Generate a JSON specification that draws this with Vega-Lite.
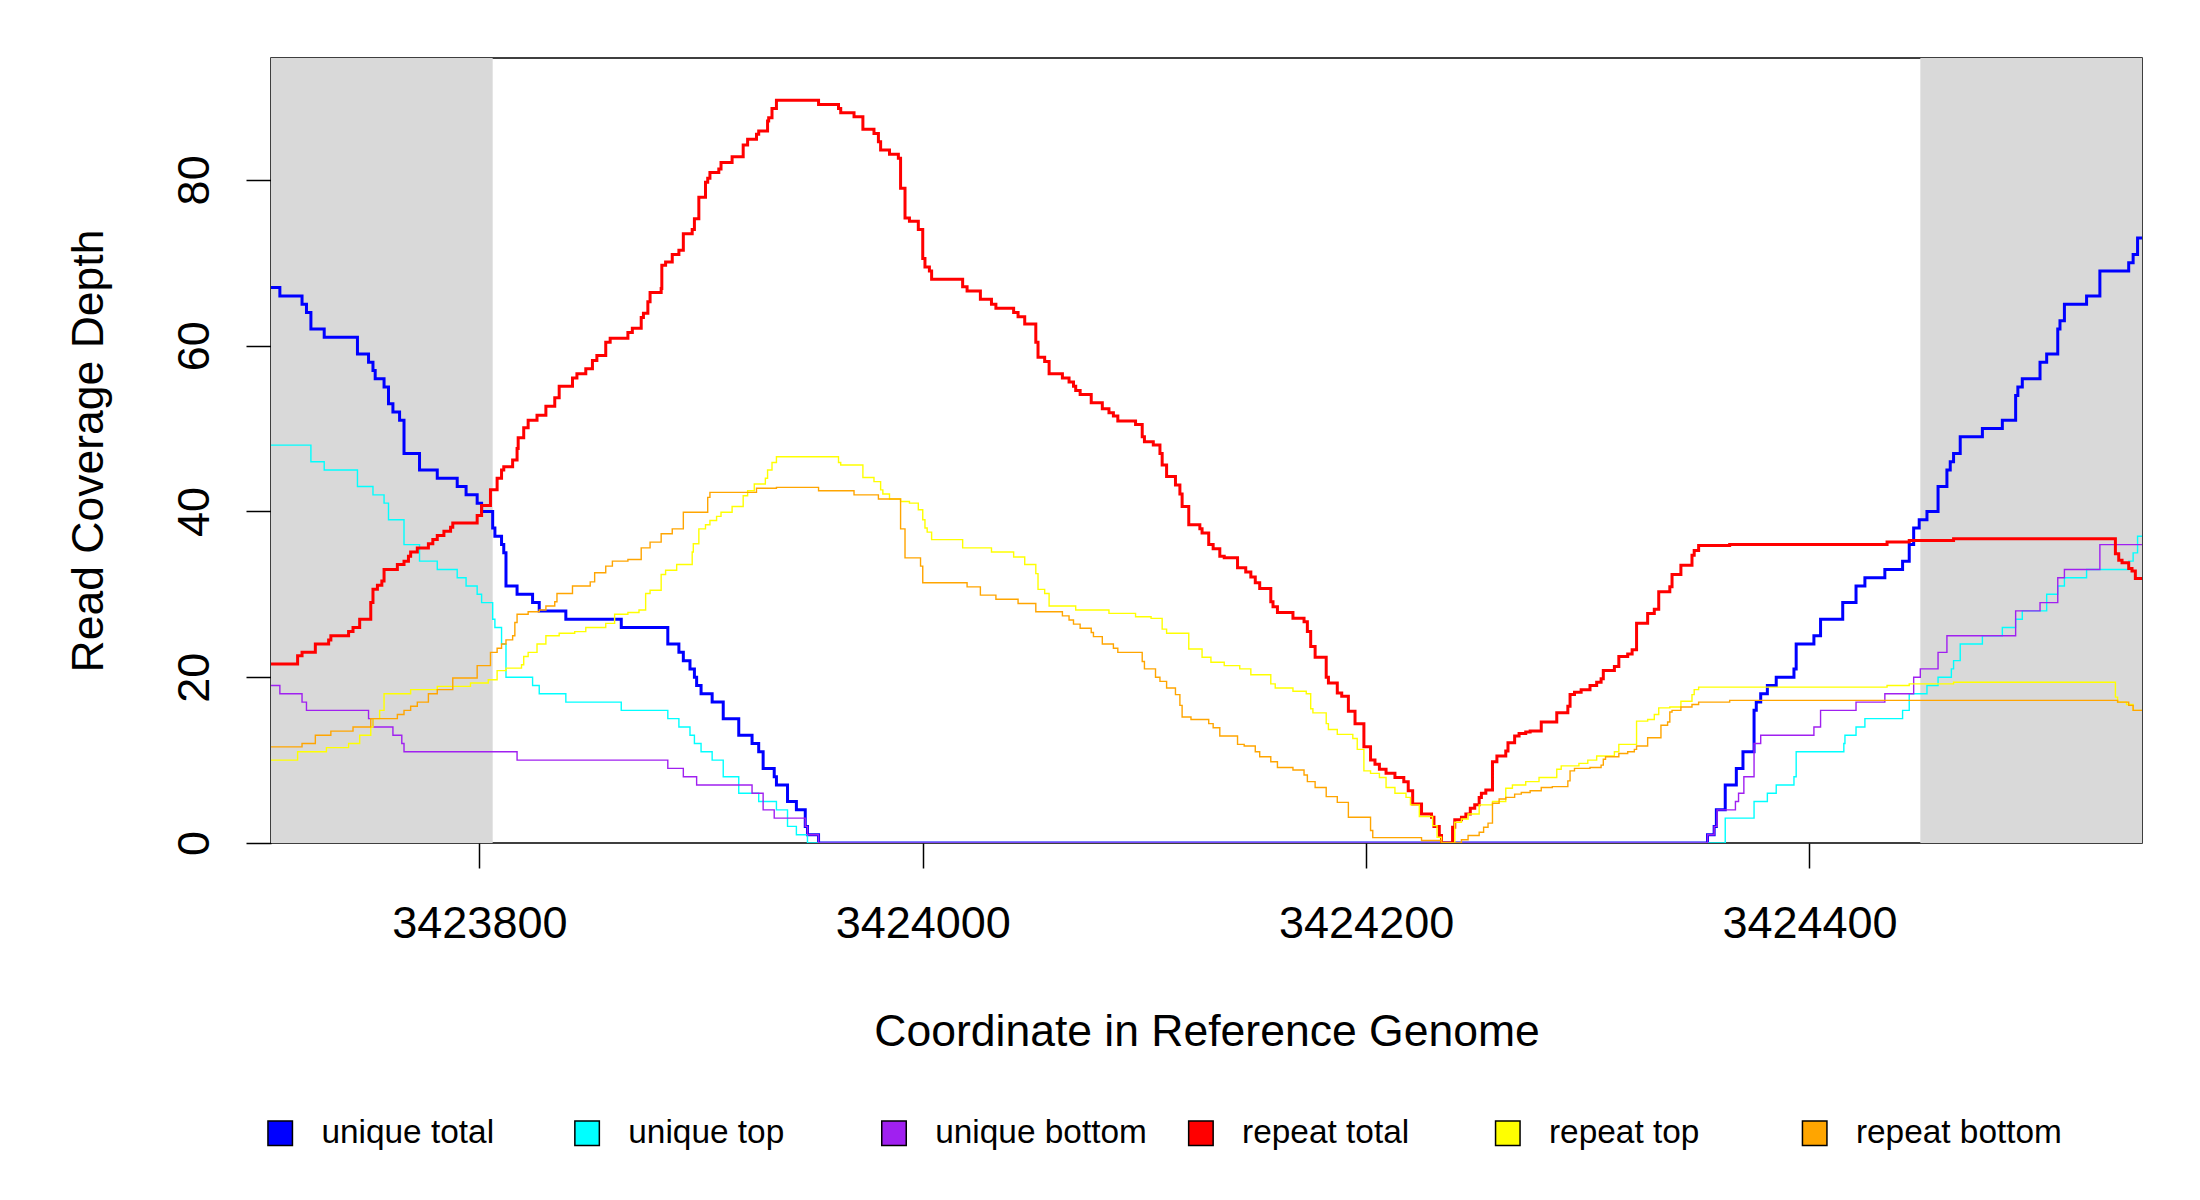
{
"$schema": "https://vega.github.io/schema/vega-lite/v6.json",
"autosize": {"type": "none"},
"width": 1871,
"height": 785,
"padding": {"left": 271, "top": 58, "right": 58, "bottom": 357},
"background": "white",
"datasets": {
"coverage": [
{"series":"unique total","x":3423706,"y":67},{"series":"unique total","x":3423710,"y":66},{"series":"unique total","x":3423720,"y":65},{"series":"unique total","x":3423722,"y":64},{"series":"unique total","x":3423724,"y":62},{"series":"unique total","x":3423730,"y":61},{"series":"unique total","x":3423745,"y":59},{"series":"unique total","x":3423750,"y":58},{"series":"unique total","x":3423752,"y":57},{"series":"unique total","x":3423753,"y":56},{"series":"unique total","x":3423757,"y":55},{"series":"unique total","x":3423759,"y":53},{"series":"unique total","x":3423761,"y":52},{"series":"unique total","x":3423764,"y":51},{"series":"unique total","x":3423766,"y":47},{"series":"unique total","x":3423773,"y":45},{"series":"unique total","x":3423781,"y":44},{"series":"unique total","x":3423790,"y":43},{"series":"unique total","x":3423794,"y":42},{"series":"unique total","x":3423799,"y":41},{"series":"unique total","x":3423801,"y":40},{"series":"unique total","x":3423806,"y":38},{"series":"unique total","x":3423807,"y":37},{"series":"unique total","x":3423810,"y":36},{"series":"unique total","x":3423811,"y":35},{"series":"unique total","x":3423812,"y":31},{"series":"unique total","x":3423817,"y":30},{"series":"unique total","x":3423824,"y":29},{"series":"unique total","x":3423827,"y":28},{"series":"unique total","x":3423839,"y":27},{"series":"unique total","x":3423864,"y":26},{"series":"unique total","x":3423885,"y":24},{"series":"unique total","x":3423890,"y":23},{"series":"unique total","x":3423892,"y":22},{"series":"unique total","x":3423895,"y":21},{"series":"unique total","x":3423897,"y":20},{"series":"unique total","x":3423898,"y":19},{"series":"unique total","x":3423900,"y":18},{"series":"unique total","x":3423905,"y":17},{"series":"unique total","x":3423910,"y":15},{"series":"unique total","x":3423917,"y":13},{"series":"unique total","x":3423923,"y":12},{"series":"unique total","x":3423926,"y":11},{"series":"unique total","x":3423928,"y":9},{"series":"unique total","x":3423933,"y":8},{"series":"unique total","x":3423934,"y":7},{"series":"unique total","x":3423939,"y":5},{"series":"unique total","x":3423943,"y":4},{"series":"unique total","x":3423947,"y":2},{"series":"unique total","x":3423948,"y":1},{"series":"unique total","x":3423953,"y":0},{"series":"unique total","x":3424354,"y":1},{"series":"unique total","x":3424357,"y":2},{"series":"unique total","x":3424358,"y":4},{"series":"unique total","x":3424362,"y":7},{"series":"unique total","x":3424367,"y":9},{"series":"unique total","x":3424370,"y":11},{"series":"unique total","x":3424375,"y":16},{"series":"unique total","x":3424376,"y":17},{"series":"unique total","x":3424378,"y":18},{"series":"unique total","x":3424381,"y":19},{"series":"unique total","x":3424385,"y":20},{"series":"unique total","x":3424393,"y":21},{"series":"unique total","x":3424394,"y":24},{"series":"unique total","x":3424402,"y":25},{"series":"unique total","x":3424405,"y":27},{"series":"unique total","x":3424415,"y":29},{"series":"unique total","x":3424421,"y":31},{"series":"unique total","x":3424425,"y":32},{"series":"unique total","x":3424434,"y":33},{"series":"unique total","x":3424442,"y":34},{"series":"unique total","x":3424445,"y":36},{"series":"unique total","x":3424447,"y":38},{"series":"unique total","x":3424449.5,"y":39},{"series":"unique total","x":3424453,"y":40},{"series":"unique total","x":3424458,"y":43},{"series":"unique total","x":3424462,"y":45},{"series":"unique total","x":3424463.5,"y":46},{"series":"unique total","x":3424465,"y":47},{"series":"unique total","x":3424468,"y":49},{"series":"unique total","x":3424478,"y":50},{"series":"unique total","x":3424487,"y":51},{"series":"unique total","x":3424493,"y":54},{"series":"unique total","x":3424494,"y":55},{"series":"unique total","x":3424496,"y":56},{"series":"unique total","x":3424504,"y":58},{"series":"unique total","x":3424507,"y":59},{"series":"unique total","x":3424512,"y":62},{"series":"unique total","x":3424513,"y":63},{"series":"unique total","x":3424515,"y":65},{"series":"unique total","x":3424525,"y":66},{"series":"unique total","x":3424531,"y":69},{"series":"unique total","x":3424544,"y":70},{"series":"unique total","x":3424546,"y":71},{"series":"unique total","x":3424548,"y":73},{"series":"unique total","x":3424550,"y":73},
{"series":"unique top","x":3423706,"y":48},{"series":"unique top","x":3423724,"y":46},{"series":"unique top","x":3423730,"y":45},{"series":"unique top","x":3423745,"y":43},{"series":"unique top","x":3423752,"y":42},{"series":"unique top","x":3423757,"y":41},{"series":"unique top","x":3423759,"y":39},{"series":"unique top","x":3423766,"y":36},{"series":"unique top","x":3423773,"y":34},{"series":"unique top","x":3423781,"y":33},{"series":"unique top","x":3423790,"y":32},{"series":"unique top","x":3423794,"y":31},{"series":"unique top","x":3423799,"y":30},{"series":"unique top","x":3423801,"y":29},{"series":"unique top","x":3423806,"y":27},{"series":"unique top","x":3423807,"y":26},{"series":"unique top","x":3423810,"y":24},{"series":"unique top","x":3423812,"y":20},{"series":"unique top","x":3423824,"y":19},{"series":"unique top","x":3423827,"y":18},{"series":"unique top","x":3423839,"y":17},{"series":"unique top","x":3423864,"y":16},{"series":"unique top","x":3423885,"y":15},{"series":"unique top","x":3423890,"y":14},{"series":"unique top","x":3423895,"y":13},{"series":"unique top","x":3423897,"y":12},{"series":"unique top","x":3423900,"y":11},{"series":"unique top","x":3423905,"y":10},{"series":"unique top","x":3423910,"y":8},{"series":"unique top","x":3423917,"y":6},{"series":"unique top","x":3423926,"y":5},{"series":"unique top","x":3423934,"y":4},{"series":"unique top","x":3423939,"y":2},{"series":"unique top","x":3423943,"y":1},{"series":"unique top","x":3423948,"y":0},{"series":"unique top","x":3424362,"y":3},{"series":"unique top","x":3424375,"y":5},{"series":"unique top","x":3424381,"y":6},{"series":"unique top","x":3424385,"y":7},{"series":"unique top","x":3424393,"y":8},{"series":"unique top","x":3424394,"y":11},{"series":"unique top","x":3424415.5,"y":12},{"series":"unique top","x":3424416,"y":13},{"series":"unique top","x":3424421,"y":14},{"series":"unique top","x":3424425,"y":15},{"series":"unique top","x":3424442,"y":16},{"series":"unique top","x":3424445,"y":18},{"series":"unique top","x":3424453,"y":19},{"series":"unique top","x":3424458,"y":20},{"series":"unique top","x":3424464,"y":21},{"series":"unique top","x":3424465,"y":22},{"series":"unique top","x":3424468,"y":24},{"series":"unique top","x":3424478,"y":25},{"series":"unique top","x":3424487,"y":26},{"series":"unique top","x":3424493,"y":27},{"series":"unique top","x":3424496,"y":28},{"series":"unique top","x":3424507,"y":30},{"series":"unique top","x":3424512,"y":31},{"series":"unique top","x":3424515,"y":32},{"series":"unique top","x":3424525,"y":33},{"series":"unique top","x":3424544,"y":34},{"series":"unique top","x":3424546,"y":35},{"series":"unique top","x":3424548,"y":37},{"series":"unique top","x":3424550,"y":37},
{"series":"unique bottom","x":3423706,"y":19},{"series":"unique bottom","x":3423710,"y":18},{"series":"unique bottom","x":3423720,"y":17},{"series":"unique bottom","x":3423722,"y":16},{"series":"unique bottom","x":3423750,"y":15},{"series":"unique bottom","x":3423752,"y":14},{"series":"unique bottom","x":3423761,"y":13},{"series":"unique bottom","x":3423765,"y":12},{"series":"unique bottom","x":3423766,"y":11},{"series":"unique bottom","x":3423817,"y":10},{"series":"unique bottom","x":3423885,"y":9},{"series":"unique bottom","x":3423892,"y":8},{"series":"unique bottom","x":3423898,"y":7},{"series":"unique bottom","x":3423923,"y":6},{"series":"unique bottom","x":3423928,"y":4},{"series":"unique bottom","x":3423933,"y":3},{"series":"unique bottom","x":3423947,"y":2},{"series":"unique bottom","x":3423948,"y":1},{"series":"unique bottom","x":3423953,"y":0},{"series":"unique bottom","x":3424354,"y":1},{"series":"unique bottom","x":3424357,"y":2},{"series":"unique bottom","x":3424358.3,"y":4},{"series":"unique bottom","x":3424366.6,"y":5},{"series":"unique bottom","x":3424368,"y":6},{"series":"unique bottom","x":3424370.4,"y":8},{"series":"unique bottom","x":3424375,"y":12},{"series":"unique bottom","x":3424378,"y":13},{"series":"unique bottom","x":3424402,"y":14},{"series":"unique bottom","x":3424405,"y":16},{"series":"unique bottom","x":3424421,"y":17},{"series":"unique bottom","x":3424434,"y":18},{"series":"unique bottom","x":3424447,"y":20},{"series":"unique bottom","x":3424450,"y":21},{"series":"unique bottom","x":3424458,"y":23},{"series":"unique bottom","x":3424462,"y":25},{"series":"unique bottom","x":3424493,"y":28},{"series":"unique bottom","x":3424504,"y":29},{"series":"unique bottom","x":3424512,"y":32},{"series":"unique bottom","x":3424515,"y":33},{"series":"unique bottom","x":3424531,"y":36},{"series":"unique bottom","x":3424550,"y":36},
{"series":"repeat total","x":3423706,"y":21.6},{"series":"repeat total","x":3423718,"y":22.6},{"series":"repeat total","x":3423720,"y":23},{"series":"repeat total","x":3423726,"y":24},{"series":"repeat total","x":3423732,"y":24.5},{"series":"repeat total","x":3423733,"y":25},{"series":"repeat total","x":3423741,"y":25.5},{"series":"repeat total","x":3423743,"y":26},{"series":"repeat total","x":3423746,"y":27},{"series":"repeat total","x":3423751,"y":29},{"series":"repeat total","x":3423752,"y":30.6},{"series":"repeat total","x":3423754,"y":31.1},{"series":"repeat total","x":3423756,"y":31.6},{"series":"repeat total","x":3423757,"y":33},{"series":"repeat total","x":3423763,"y":33.6},{"series":"repeat total","x":3423766,"y":34},{"series":"repeat total","x":3423768,"y":34.6},{"series":"repeat total","x":3423769,"y":35.1},{"series":"repeat total","x":3423772,"y":35.6},{"series":"repeat total","x":3423777,"y":36.1},{"series":"repeat total","x":3423779,"y":36.6},{"series":"repeat total","x":3423781,"y":37.1},{"series":"repeat total","x":3423784,"y":37.6},{"series":"repeat total","x":3423787,"y":38.1},{"series":"repeat total","x":3423788,"y":38.6},{"series":"repeat total","x":3423799,"y":39.5},{"series":"repeat total","x":3423801,"y":40.7},{"series":"repeat total","x":3423805,"y":42.6},{"series":"repeat total","x":3423808,"y":44},{"series":"repeat total","x":3423810,"y":45},{"series":"repeat total","x":3423811,"y":45.4},{"series":"repeat total","x":3423815,"y":46.2},{"series":"repeat total","x":3423817,"y":47.6},{"series":"repeat total","x":3423817.5,"y":48.9},{"series":"repeat total","x":3423820,"y":50.1},{"series":"repeat total","x":3423822,"y":51},{"series":"repeat total","x":3423826,"y":51.6},{"series":"repeat total","x":3423830,"y":52.7},{"series":"repeat total","x":3423834,"y":53.7},{"series":"repeat total","x":3423836,"y":55.1},{"series":"repeat total","x":3423842,"y":56.1},{"series":"repeat total","x":3423844,"y":56.6},{"series":"repeat total","x":3423848,"y":57.2},{"series":"repeat total","x":3423851,"y":58.2},{"series":"repeat total","x":3423853,"y":58.8},{"series":"repeat total","x":3423857,"y":60.4},{"series":"repeat total","x":3423859,"y":60.9},{"series":"repeat total","x":3423867,"y":61.6},{"series":"repeat total","x":3423869,"y":62.1},{"series":"repeat total","x":3423873,"y":63.4},{"series":"repeat total","x":3423874,"y":63.9},{"series":"repeat total","x":3423876,"y":65.3},{"series":"repeat total","x":3423877,"y":66.4},{"series":"repeat total","x":3423882,"y":66.9},{"series":"repeat total","x":3423882.3,"y":69.7},{"series":"repeat total","x":3423884,"y":70.1},{"series":"repeat total","x":3423887,"y":71},{"series":"repeat total","x":3423890,"y":71.5},{"series":"repeat total","x":3423892,"y":73.5},{"series":"repeat total","x":3423896,"y":74},{"series":"repeat total","x":3423897,"y":75.3},{"series":"repeat total","x":3423899,"y":77.9},{"series":"repeat total","x":3423902,"y":79.7},{"series":"repeat total","x":3423903,"y":80.2},{"series":"repeat total","x":3423904,"y":80.9},{"series":"repeat total","x":3423908,"y":81.3},{"series":"repeat total","x":3423909,"y":82.1},{"series":"repeat total","x":3423914,"y":82.8},{"series":"repeat total","x":3423919,"y":84.2},{"series":"repeat total","x":3423921,"y":84.9},{"series":"repeat total","x":3423925,"y":85.5},{"series":"repeat total","x":3423926,"y":85.9},{"series":"repeat total","x":3423930,"y":87.1},{"series":"repeat total","x":3423930.5,"y":87.5},{"series":"repeat total","x":3423932,"y":88.6},{"series":"repeat total","x":3423934,"y":89.6},{"series":"repeat total","x":3423953,"y":89.1},{"series":"repeat total","x":3423962,"y":88.6},{"series":"repeat total","x":3423963,"y":88.1},{"series":"repeat total","x":3423969,"y":87.6},{"series":"repeat total","x":3423973,"y":86.1},{"series":"repeat total","x":3423978,"y":85.6},{"series":"repeat total","x":3423980,"y":84.6},{"series":"repeat total","x":3423981,"y":83.6},{"series":"repeat total","x":3423985,"y":83.1},{"series":"repeat total","x":3423989,"y":82.6},{"series":"repeat total","x":3423990,"y":79.0},{"series":"repeat total","x":3423992,"y":75.4},{"series":"repeat total","x":3423994,"y":75.0},{"series":"repeat total","x":3423998,"y":74.0},{"series":"repeat total","x":3424000,"y":70.5},{"series":"repeat total","x":3424001,"y":69.5},{"series":"repeat total","x":3424003,"y":69.0},{"series":"repeat total","x":3424004,"y":68.0},{"series":"repeat total","x":3424018,"y":67.1},{"series":"repeat total","x":3424020,"y":66.6},{"series":"repeat total","x":3424026,"y":65.6},{"series":"repeat total","x":3424031,"y":65.0},{"series":"repeat total","x":3424033,"y":64.5},{"series":"repeat total","x":3424041,"y":64.0},{"series":"repeat total","x":3424043,"y":63.5},{"series":"repeat total","x":3424046,"y":62.6},{"series":"repeat total","x":3424051,"y":60.4},{"series":"repeat total","x":3424052,"y":58.6},{"series":"repeat total","x":3424055,"y":58.1},{"series":"repeat total","x":3424057,"y":56.6},{"series":"repeat total","x":3424063,"y":56.1},{"series":"repeat total","x":3424066,"y":55.6},{"series":"repeat total","x":3424068,"y":55.1},{"series":"repeat total","x":3424069,"y":54.6},{"series":"repeat total","x":3424071,"y":54.1},{"series":"repeat total","x":3424076,"y":53.1},{"series":"repeat total","x":3424081,"y":52.4},{"series":"repeat total","x":3424084,"y":51.9},{"series":"repeat total","x":3424086,"y":51.5},{"series":"repeat total","x":3424088,"y":50.9},{"series":"repeat total","x":3424096,"y":50.5},{"series":"repeat total","x":3424099,"y":49.0},{"series":"repeat total","x":3424100,"y":48.4},{"series":"repeat total","x":3424104,"y":48.0},{"series":"repeat total","x":3424107,"y":47.0},{"series":"repeat total","x":3424108,"y":45.6},{"series":"repeat total","x":3424110,"y":44.2},{"series":"repeat total","x":3424114,"y":43.2},{"series":"repeat total","x":3424116,"y":42.1},{"series":"repeat total","x":3424117,"y":40.6},{"series":"repeat total","x":3424120,"y":38.4},{"series":"repeat total","x":3424125,"y":37.9},{"series":"repeat total","x":3424126,"y":37.4},{"series":"repeat total","x":3424129,"y":36.0},{"series":"repeat total","x":3424131,"y":35.5},{"series":"repeat total","x":3424134,"y":34.6},{"series":"repeat total","x":3424136,"y":34.4},{"series":"repeat total","x":3424142,"y":33.2},{"series":"repeat total","x":3424145.7,"y":32.7},{"series":"repeat total","x":3424148,"y":32.1},{"series":"repeat total","x":3424150,"y":31.4},{"series":"repeat total","x":3424152,"y":30.7},{"series":"repeat total","x":3424157,"y":29.1},{"series":"repeat total","x":3424158,"y":28.5},{"series":"repeat total","x":3424160,"y":27.8},{"series":"repeat total","x":3424167,"y":27.1},{"series":"repeat total","x":3424172,"y":26.7},{"series":"repeat total","x":3424173.5,"y":25.5},{"series":"repeat total","x":3424175,"y":23.7},{"series":"repeat total","x":3424177,"y":22.4},{"series":"repeat total","x":3424182,"y":20.0},{"series":"repeat total","x":3424183,"y":19.3},{"series":"repeat total","x":3424187,"y":18.1},{"series":"repeat total","x":3424189,"y":17.7},{"series":"repeat total","x":3424192,"y":15.9},{"series":"repeat total","x":3424195,"y":14.4},{"series":"repeat total","x":3424199,"y":11.6},{"series":"repeat total","x":3424202,"y":10.0},{"series":"repeat total","x":3424204,"y":9.5},{"series":"repeat total","x":3424206,"y":8.9},{"series":"repeat total","x":3424209,"y":8.4},{"series":"repeat total","x":3424213,"y":7.9},{"series":"repeat total","x":3424217,"y":7.4},{"series":"repeat total","x":3424219,"y":6.3},{"series":"repeat total","x":3424221,"y":4.7},{"series":"repeat total","x":3424225,"y":3.5},{"series":"repeat total","x":3424229.5,"y":3.1},{"series":"repeat total","x":3424230.6,"y":2.0},{"series":"repeat total","x":3424233,"y":0.9},{"series":"repeat total","x":3424234,"y":0},{"series":"repeat total","x":3424239,"y":1.9},{"series":"repeat total","x":3424240,"y":2.8},{"series":"repeat total","x":3424243,"y":3.1},{"series":"repeat total","x":3424245,"y":3.5},{"series":"repeat total","x":3424247,"y":4.2},{"series":"repeat total","x":3424249,"y":4.6},{"series":"repeat total","x":3424251,"y":5.5},{"series":"repeat total","x":3424252,"y":6.0},{"series":"repeat total","x":3424254,"y":6.4},{"series":"repeat total","x":3424257,"y":9.8},{"series":"repeat total","x":3424259,"y":10.5},{"series":"repeat total","x":3424263,"y":11.1},{"series":"repeat total","x":3424264,"y":12.1},{"series":"repeat total","x":3424267,"y":12.9},{"series":"repeat total","x":3424269,"y":13.2},{"series":"repeat total","x":3424272,"y":13.4},{"series":"repeat total","x":3424274,"y":13.5},{"series":"repeat total","x":3424279,"y":14.6},{"series":"repeat total","x":3424286,"y":15.7},{"series":"repeat total","x":3424291,"y":16.5},{"series":"repeat total","x":3424292,"y":17.9},{"series":"repeat total","x":3424294,"y":18.2},{"series":"repeat total","x":3424297,"y":18.5},{"series":"repeat total","x":3424301,"y":19.0},{"series":"repeat total","x":3424304,"y":19.4},{"series":"repeat total","x":3424306,"y":19.8},{"series":"repeat total","x":3424307,"y":20.8},{"series":"repeat total","x":3424312,"y":21.3},{"series":"repeat total","x":3424314,"y":22.5},{"series":"repeat total","x":3424318,"y":22.8},{"series":"repeat total","x":3424320,"y":23.3},{"series":"repeat total","x":3424322,"y":26.5},{"series":"repeat total","x":3424327,"y":27.7},{"series":"repeat total","x":3424330,"y":28.2},{"series":"repeat total","x":3424332,"y":30.3},{"series":"repeat total","x":3424337,"y":30.9},{"series":"repeat total","x":3424338,"y":32.4},{"series":"repeat total","x":3424342,"y":33.5},{"series":"repeat total","x":3424347,"y":34.7},{"series":"repeat total","x":3424348,"y":35.3},{"series":"repeat total","x":3424350,"y":35.9},{"series":"repeat total","x":3424364,"y":36.0},{"series":"repeat total","x":3424435,"y":36.3},{"series":"repeat total","x":3424445,"y":36.5},{"series":"repeat total","x":3424465,"y":36.7},{"series":"repeat total","x":3424538,"y":34.9},{"series":"repeat total","x":3424539.5,"y":34.1},{"series":"repeat total","x":3424541,"y":33.8},{"series":"repeat total","x":3424544,"y":33.1},{"series":"repeat total","x":3424545.5,"y":32.8},{"series":"repeat total","x":3424547,"y":31.9},{"series":"repeat total","x":3424550,"y":31.9},
{"series":"repeat top","x":3423706,"y":10},{"series":"repeat top","x":3423718,"y":11},{"series":"repeat top","x":3423731,"y":11.5},{"series":"repeat top","x":3423741,"y":12},{"series":"repeat top","x":3423746,"y":13},{"series":"repeat top","x":3423751,"y":14},{"series":"repeat top","x":3423752,"y":15},{"series":"repeat top","x":3423755,"y":16},{"series":"repeat top","x":3423757,"y":18},{"series":"repeat top","x":3423769,"y":18.5},{"series":"repeat top","x":3423781,"y":18.9},{"series":"repeat top","x":3423796,"y":19.3},{"series":"repeat top","x":3423804,"y":19.7},{"series":"repeat top","x":3423808,"y":20.8},{"series":"repeat top","x":3423812,"y":21.1},{"series":"repeat top","x":3423819,"y":21.5},{"series":"repeat top","x":3423820,"y":22.5},{"series":"repeat top","x":3423822,"y":23},{"series":"repeat top","x":3423826,"y":24},{"series":"repeat top","x":3423830,"y":25},{"series":"repeat top","x":3423836,"y":25.3},{"series":"repeat top","x":3423843,"y":25.5},{"series":"repeat top","x":3423848,"y":26},{"series":"repeat top","x":3423857,"y":26.5},{"series":"repeat top","x":3423861,"y":27.6},{"series":"repeat top","x":3423867,"y":27.8},{"series":"repeat top","x":3423872,"y":28.1},{"series":"repeat top","x":3423875,"y":30.1},{"series":"repeat top","x":3423877,"y":30.5},{"series":"repeat top","x":3423882,"y":32.4},{"series":"repeat top","x":3423884,"y":32.9},{"series":"repeat top","x":3423889,"y":33.6},{"series":"repeat top","x":3423896,"y":35.1},{"series":"repeat top","x":3423896.5,"y":36.1},{"series":"repeat top","x":3423899,"y":37.9},{"series":"repeat top","x":3423902,"y":38.4},{"series":"repeat top","x":3423904,"y":38.9},{"series":"repeat top","x":3423907,"y":39.4},{"series":"repeat top","x":3423909,"y":39.9},{"series":"repeat top","x":3423914,"y":40.6},{"series":"repeat top","x":3423919,"y":41.9},{"series":"repeat top","x":3423921,"y":42.5},{"series":"repeat top","x":3423924,"y":43.3},{"series":"repeat top","x":3423929,"y":44},{"series":"repeat top","x":3423930,"y":45},{"series":"repeat top","x":3423932,"y":45.9},{"series":"repeat top","x":3423934,"y":46.6},{"series":"repeat top","x":3423962,"y":45.9},{"series":"repeat top","x":3423963,"y":45.6},{"series":"repeat top","x":3423973,"y":44.1},{"series":"repeat top","x":3423978,"y":43.6},{"series":"repeat top","x":3423981,"y":42.6},{"series":"repeat top","x":3423982,"y":42.1},{"series":"repeat top","x":3423985,"y":41.5},{"series":"repeat top","x":3423990,"y":41.2},{"series":"repeat top","x":3423994,"y":41.0},{"series":"repeat top","x":3423998,"y":40.2},{"series":"repeat top","x":3424000,"y":39.0},{"series":"repeat top","x":3424001,"y":38.0},{"series":"repeat top","x":3424002,"y":37.5},{"series":"repeat top","x":3424004,"y":36.6},{"series":"repeat top","x":3424018,"y":35.6},{"series":"repeat top","x":3424031,"y":35.1},{"series":"repeat top","x":3424041,"y":34.5},{"series":"repeat top","x":3424046,"y":33.6},{"series":"repeat top","x":3424051,"y":32.5},{"series":"repeat top","x":3424052,"y":30.6},{"series":"repeat top","x":3424055,"y":30.1},{"series":"repeat top","x":3424057,"y":28.6},{"series":"repeat top","x":3424069,"y":28.1},{"series":"repeat top","x":3424084,"y":27.7},{"series":"repeat top","x":3424096,"y":27.3},{"series":"repeat top","x":3424103,"y":27.1},{"series":"repeat top","x":3424108,"y":25.8},{"series":"repeat top","x":3424110,"y":25.3},{"series":"repeat top","x":3424120,"y":23.4},{"series":"repeat top","x":3424126,"y":22.4},{"series":"repeat top","x":3424130,"y":21.8},{"series":"repeat top","x":3424136,"y":21.4},{"series":"repeat top","x":3424143,"y":21.0},{"series":"repeat top","x":3424148,"y":20.3},{"series":"repeat top","x":3424157,"y":19.2},{"series":"repeat top","x":3424159,"y":18.7},{"series":"repeat top","x":3424167,"y":18.3},{"series":"repeat top","x":3424173,"y":18.0},{"series":"repeat top","x":3424175,"y":16.2},{"series":"repeat top","x":3424176,"y":15.7},{"series":"repeat top","x":3424182,"y":14.4},{"series":"repeat top","x":3424183,"y":13.7},{"series":"repeat top","x":3424187,"y":13.1},{"series":"repeat top","x":3424194,"y":12.6},{"series":"repeat top","x":3424196,"y":11.3},{"series":"repeat top","x":3424199,"y":8.7},{"series":"repeat top","x":3424202,"y":8.4},{"series":"repeat top","x":3424206,"y":7.9},{"series":"repeat top","x":3424209,"y":6.7},{"series":"repeat top","x":3424213,"y":6.0},{"series":"repeat top","x":3424218,"y":5.5},{"series":"repeat top","x":3424220,"y":4.6},{"series":"repeat top","x":3424224,"y":3.2},{"series":"repeat top","x":3424230,"y":2.1},{"series":"repeat top","x":3424232,"y":0.7},{"series":"repeat top","x":3424234,"y":0},{"series":"repeat top","x":3424240,"y":2.5},{"series":"repeat top","x":3424243,"y":2.9},{"series":"repeat top","x":3424246,"y":3.5},{"series":"repeat top","x":3424251,"y":4.6},{"series":"repeat top","x":3424257,"y":5.0},{"series":"repeat top","x":3424263,"y":6.6},{"series":"repeat top","x":3424266,"y":7.0},{"series":"repeat top","x":3424272,"y":7.4},{"series":"repeat top","x":3424278,"y":7.9},{"series":"repeat top","x":3424286,"y":8.9},{"series":"repeat top","x":3424288,"y":9.3},{"series":"repeat top","x":3424296,"y":9.6},{"series":"repeat top","x":3424300,"y":10.0},{"series":"repeat top","x":3424304,"y":10.5},{"series":"repeat top","x":3424312,"y":11.0},{"series":"repeat top","x":3424314,"y":11.9},{"series":"repeat top","x":3424322,"y":14.7},{"series":"repeat top","x":3424327,"y":14.9},{"series":"repeat top","x":3424330,"y":15.5},{"series":"repeat top","x":3424332,"y":16.3},{"series":"repeat top","x":3424337,"y":16.4},{"series":"repeat top","x":3424342,"y":17.1},{"series":"repeat top","x":3424347,"y":17.9},{"series":"repeat top","x":3424348,"y":18.5},{"series":"repeat top","x":3424350,"y":18.8},{"series":"repeat top","x":3424435,"y":19.0},{"series":"repeat top","x":3424445,"y":19.2},{"series":"repeat top","x":3424465,"y":19.4},{"series":"repeat top","x":3424538,"y":17.6},{"series":"repeat top","x":3424539,"y":17.0},{"series":"repeat top","x":3424543,"y":16.7},{"series":"repeat top","x":3424546,"y":16.0},{"series":"repeat top","x":3424550,"y":16.0},
{"series":"repeat bottom","x":3423706,"y":11.6},{"series":"repeat bottom","x":3423720,"y":12},{"series":"repeat bottom","x":3423726,"y":13},{"series":"repeat bottom","x":3423733,"y":13.5},{"series":"repeat bottom","x":3423743,"y":14},{"series":"repeat bottom","x":3423751,"y":15},{"series":"repeat bottom","x":3423763,"y":15.5},{"series":"repeat bottom","x":3423766,"y":16},{"series":"repeat bottom","x":3423769,"y":16.5},{"series":"repeat bottom","x":3423772,"y":17},{"series":"repeat bottom","x":3423777,"y":18},{"series":"repeat bottom","x":3423781,"y":18.5},{"series":"repeat bottom","x":3423788,"y":19.9},{"series":"repeat bottom","x":3423799,"y":21.4},{"series":"repeat bottom","x":3423805,"y":23},{"series":"repeat bottom","x":3423808,"y":23.5},{"series":"repeat bottom","x":3423810,"y":24},{"series":"repeat bottom","x":3423812,"y":24.5},{"series":"repeat bottom","x":3423815,"y":25},{"series":"repeat bottom","x":3423816,"y":26.6},{"series":"repeat bottom","x":3423817,"y":27.6},{"series":"repeat bottom","x":3423822,"y":27.9},{"series":"repeat bottom","x":3423827,"y":28.1},{"series":"repeat bottom","x":3423830,"y":28.6},{"series":"repeat bottom","x":3423834,"y":29.1},{"series":"repeat bottom","x":3423835,"y":30.1},{"series":"repeat bottom","x":3423842,"y":31},{"series":"repeat bottom","x":3423850,"y":31.5},{"series":"repeat bottom","x":3423852,"y":32.6},{"series":"repeat bottom","x":3423857,"y":33.4},{"series":"repeat bottom","x":3423860,"y":34},{"series":"repeat bottom","x":3423867,"y":34.2},{"series":"repeat bottom","x":3423873,"y":35.6},{"series":"repeat bottom","x":3423877,"y":36.3},{"series":"repeat bottom","x":3423882,"y":37.3},{"series":"repeat bottom","x":3423887,"y":37.9},{"series":"repeat bottom","x":3423892,"y":39.9},{"series":"repeat bottom","x":3423903,"y":41.7},{"series":"repeat bottom","x":3423904,"y":42.3},{"series":"repeat bottom","x":3423925,"y":42.8},{"series":"repeat bottom","x":3423934,"y":42.9},{"series":"repeat bottom","x":3423953,"y":42.5},{"series":"repeat bottom","x":3423969,"y":42.0},{"series":"repeat bottom","x":3423980,"y":41.5},{"series":"repeat bottom","x":3423990,"y":37.9},{"series":"repeat bottom","x":3423992,"y":34.4},{"series":"repeat bottom","x":3423999,"y":33.4},{"series":"repeat bottom","x":3424000,"y":31.4},{"series":"repeat bottom","x":3424020,"y":30.9},{"series":"repeat bottom","x":3424026,"y":29.9},{"series":"repeat bottom","x":3424033,"y":29.4},{"series":"repeat bottom","x":3424043,"y":28.9},{"series":"repeat bottom","x":3424051,"y":27.9},{"series":"repeat bottom","x":3424063,"y":27.4},{"series":"repeat bottom","x":3424066,"y":26.9},{"series":"repeat bottom","x":3424068,"y":26.4},{"series":"repeat bottom","x":3424071,"y":25.9},{"series":"repeat bottom","x":3424076,"y":25.4},{"series":"repeat bottom","x":3424077,"y":24.9},{"series":"repeat bottom","x":3424081,"y":24.0},{"series":"repeat bottom","x":3424086,"y":23.5},{"series":"repeat bottom","x":3424088,"y":23.0},{"series":"repeat bottom","x":3424099,"y":21.9},{"series":"repeat bottom","x":3424100,"y":21.0},{"series":"repeat bottom","x":3424105,"y":20.0},{"series":"repeat bottom","x":3424107,"y":19.5},{"series":"repeat bottom","x":3424110,"y":18.7},{"series":"repeat bottom","x":3424114,"y":17.9},{"series":"repeat bottom","x":3424116,"y":16.6},{"series":"repeat bottom","x":3424117,"y":15.2},{"series":"repeat bottom","x":3424121,"y":14.9},{"series":"repeat bottom","x":3424129,"y":14.4},{"series":"repeat bottom","x":3424131,"y":13.9},{"series":"repeat bottom","x":3424134,"y":12.9},{"series":"repeat bottom","x":3424142,"y":11.9},{"series":"repeat bottom","x":3424145,"y":11.7},{"series":"repeat bottom","x":3424150,"y":11.0},{"series":"repeat bottom","x":3424152,"y":10.4},{"series":"repeat bottom","x":3424157,"y":9.8},{"series":"repeat bottom","x":3424160,"y":9.1},{"series":"repeat bottom","x":3424167,"y":8.8},{"series":"repeat bottom","x":3424172,"y":8.2},{"series":"repeat bottom","x":3424173.5,"y":7.4},{"series":"repeat bottom","x":3424177,"y":6.7},{"series":"repeat bottom","x":3424182,"y":5.6},{"series":"repeat bottom","x":3424187,"y":4.9},{"series":"repeat bottom","x":3424192,"y":3.1},{"series":"repeat bottom","x":3424202,"y":1.5},{"series":"repeat bottom","x":3424203,"y":0.65},{"series":"repeat bottom","x":3424225,"y":0.3},{"series":"repeat bottom","x":3424234,"y":0},{"series":"repeat bottom","x":3424243,"y":0.4},{"series":"repeat bottom","x":3424246,"y":0.9},{"series":"repeat bottom","x":3424251,"y":1.3},{"series":"repeat bottom","x":3424253,"y":1.9},{"series":"repeat bottom","x":3424255,"y":2.4},{"series":"repeat bottom","x":3424257,"y":4.8},{"series":"repeat bottom","x":3424260,"y":5.3},{"series":"repeat bottom","x":3424263,"y":5.5},{"series":"repeat bottom","x":3424267,"y":5.9},{"series":"repeat bottom","x":3424270,"y":6.1},{"series":"repeat bottom","x":3424274,"y":6.3},{"series":"repeat bottom","x":3424279,"y":6.7},{"series":"repeat bottom","x":3424284,"y":6.8},{"series":"repeat bottom","x":3424291,"y":7.5},{"series":"repeat bottom","x":3424292,"y":8.7},{"series":"repeat bottom","x":3424294,"y":9.0},{"series":"repeat bottom","x":3424301,"y":9.1},{"series":"repeat bottom","x":3424306,"y":9.4},{"series":"repeat bottom","x":3424307,"y":10.1},{"series":"repeat bottom","x":3424308,"y":10.4},{"series":"repeat bottom","x":3424314,"y":10.8},{"series":"repeat bottom","x":3424318,"y":11.0},{"series":"repeat bottom","x":3424321,"y":11.3},{"series":"repeat bottom","x":3424322,"y":11.7},{"series":"repeat bottom","x":3424327,"y":12.7},{"series":"repeat bottom","x":3424333,"y":14.2},{"series":"repeat bottom","x":3424336,"y":14.6},{"series":"repeat bottom","x":3424337,"y":15.8},{"series":"repeat bottom","x":3424338,"y":16.0},{"series":"repeat bottom","x":3424342,"y":16.4},{"series":"repeat bottom","x":3424347,"y":16.7},{"series":"repeat bottom","x":3424350,"y":17.0},{"series":"repeat bottom","x":3424364,"y":17.2},{"series":"repeat bottom","x":3424539,"y":17.0},{"series":"repeat bottom","x":3424544,"y":16.6},{"series":"repeat bottom","x":3424546,"y":16.0},{"series":"repeat bottom","x":3424550,"y":16.0}
],
"flanks": [{"start": 3423706, "end": 3423806, "lo": 0, "hi": 94.7}, {"start": 3424450, "end": 3424550, "lo": 0, "hi": 94.7}]
},
"layer": [
{"data": {"name": "flanks"},
 "mark": {"type": "rect", "color": "#D9D9D9", "opacity": 1},
 "encoding": {
  "x": {"field": "start", "type": "quantitative",
   "scale": {"domain": [3423706, 3424550], "nice": false, "zero": false},
   "axis": {"values": [3423800, 3424000, 3424200, 3424400], "format": "d", "labelFontSize": 45, "labelFont": "Liberation Sans", "labelColor": "black", "labelBaseline": "alphabetic", "labelPadding": 69, "labelFlush": false, "labelOverlap": false, "tickSize": 25, "tickWidth": 1.5, "tickColor": "black", "domain": false, "grid": false, "title": "Coordinate in Reference Genome", "titleFontSize": 44.5, "titleFont": "Liberation Sans", "titleFontWeight": "normal", "titleColor": "black", "titleBaseline": "alphabetic", "titleY": 202}},
  "x2": {"field": "end"},
  "y": {"field": "lo", "type": "quantitative",
   "scale": {"domain": [0, 94.7], "nice": false, "zero": false},
   "axis": {"values": [0, 20, 40, 60, 80], "labelFontSize": 45, "labelFont": "Liberation Sans", "labelColor": "black", "labelAngle": 270, "labelAlign": "center", "labelBaseline": "alphabetic", "labelPadding": 37.5, "labelFlush": false, "labelOverlap": false, "tickSize": 25, "tickWidth": 1.5, "tickColor": "black", "domain": false, "grid": false, "title": "Read Coverage Depth", "titleFontSize": 44.5, "titleFont": "Liberation Sans", "titleFontWeight": "normal", "titleColor": "black", "titleAngle": 270, "titleAlign": "center", "titleBaseline": "alphabetic", "titleX": -169, "titleY": 392.5}},
  "y2": {"field": "hi"}}},
{"data": {"name": "coverage"},
 "encoding": {
  "x": {"field": "x", "type": "quantitative", "title": "Coordinate in Reference Genome"},
  "y": {"field": "y", "type": "quantitative", "title": "Read Coverage Depth"}},
 "layer": [
  {"transform": [{"filter": "datum.series === 'unique total'"}],
   "mark": {"type": "line", "interpolate": "step-after", "color": "#0000FF", "strokeWidth": 3, "clip": true}},
  {"transform": [{"filter": "datum.series === 'unique top'"}],
   "mark": {"type": "line", "interpolate": "step-after", "color": "#00FFFF", "strokeWidth": 1.4, "clip": true}},
  {"transform": [{"filter": "datum.series === 'unique bottom'"}],
   "mark": {"type": "line", "interpolate": "step-after", "color": "#A020F0", "strokeWidth": 1.4, "clip": true}},
  {"transform": [{"filter": "datum.series === 'repeat total'"}],
   "mark": {"type": "line", "interpolate": "step-after", "color": "#FF0000", "strokeWidth": 3, "clip": true}},
  {"transform": [{"filter": "datum.series === 'repeat top'"}],
   "mark": {"type": "line", "interpolate": "step-after", "color": "#FFFF00", "strokeWidth": 1.4, "clip": true}},
  {"transform": [{"filter": "datum.series === 'repeat bottom'"}],
   "mark": {"type": "line", "interpolate": "step-after", "color": "#FFA500", "strokeWidth": 1.4, "clip": true}},
  {"mark": {"type": "point", "shape": "square", "filled": true, "size": 0, "opacity": 1},
   "encoding": {"fill": {"field": "series", "type": "nominal",
    "scale": {"domain": ["unique total", "unique top", "unique bottom", "repeat total", "repeat top", "repeat bottom"], "range": ["#0000FF", "#00FFFF", "#A020F0", "#FF0000", "#FFFF00", "#FFA500"]},
    "legend": {"orient": "none", "legendX": -7.5, "legendY": 1058, "direction": "horizontal", "columns": 6, "gridAlign": "all", "columnPadding": 36.9, "title": null, "symbolType": "square", "symbolSize": 600, "symbolStrokeColor": "black", "symbolStrokeWidth": 1.5, "symbolOpacity": 1, "labelFontSize": 33.4, "labelFont": "Liberation Sans", "labelColor": "black", "labelOffset": 24.5, "labelLimit": 500, "padding": 0,
     "encode": {"symbols": {"update": {"stroke": {"value": "black"}, "strokeWidth": {"value": 1.5}, "size": {"value": 600}, "opacity": {"value": 1}}}}}}}}
 ]}
],
"config": {
"view": {"stroke": "black", "strokeWidth": 1.5},
"font": "Liberation Sans"
}
}
